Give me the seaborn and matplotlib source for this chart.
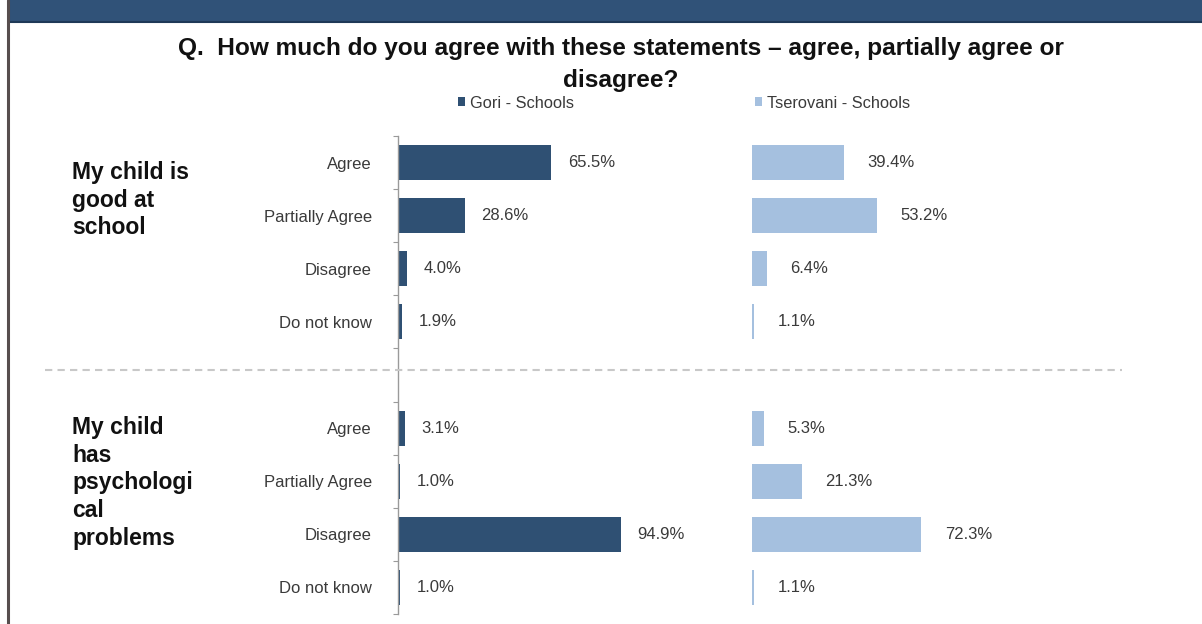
import numpy as np
import pandas as pd
import matplotlib
matplotlib.use("Agg")
import matplotlib.pyplot as plt
import seaborn as sns
from matplotlib.patches import Patch, Rectangle
from matplotlib.lines import Line2D

# data
statements = ["My child is\ngood at\nschool", "My child\nhas\npsychologi\ncal\nproblems"]
responses = ["Agree", "Partially Agree", "Disagree", "Do not know"]
gori = [65.5, 28.6, 4.0, 1.9, 3.1, 1.0, 94.9, 1.0]
tserovani = [39.4, 53.2, 6.4, 1.1, 5.3, 21.3, 72.3, 1.1]
series_names = ["Gori - Schools", "Tserovani - Schools"]
title = "Q.  How much do you agree with these statements \u2013 agree, partially agree or\ndisagree?"

DARK = "#2F5073"
LIGHT = "#A5C0DF"
TXT = "#3a3a3a"

# long table, one row per statement/response
keys = [f"s{i}_{r}" for i in range(len(statements)) for r in responses]
df = pd.DataFrame({"key": keys,
                   "response": responses * len(statements),
                   "Gori": gori, "Tserovani": tserovani})
order = keys[:4] + ["gap"] + keys[4:]
tick_labels = [df.set_index("key")["response"].get(k, "") for k in order]

sns.set_theme(style="white")
plt.rcParams["font.family"] = ["Liberation Sans", "DejaVu Sans"]

fig = plt.figure(figsize=(12.02, 6.24), dpi=100)
W, H = 1202, 624

def fx(px):
    return px / W

def fy(py):
    return 1 - py / H

ax_bottom = fy(614)
ax_h = (614 - 136) / H
scale = 2.35  # px per percent
ax1 = fig.add_axes([fx(397.5), ax_bottom, fx(140 * scale), ax_h])
ax2 = fig.add_axes([fx(751.5), ax_bottom, fx(160 * scale), ax_h])

sns.barplot(data=df, x="Gori", y="key", order=order, orient="h", color=DARK,
            saturation=1, width=0.66, ax=ax1, linewidth=0)
sns.barplot(data=df, x="Tserovani", y="key", order=order, orient="h", color=LIGHT,
            saturation=1, width=0.66, ax=ax2, linewidth=0)

for ax, pad in ((ax1, 12), (ax2, 17)):
    ax.set_xlim(0, 140 if ax is ax1 else 160)
    ax.set_ylim(len(order) - 0.5, -0.5)
    ax.set_xlabel("")
    ax.set_ylabel("")
    ax.set_xticks([])
    ax.patch.set_alpha(0)
    for c in ax.containers:
        ax.bar_label(c, fmt="%.1f%%", padding=pad, fontsize=12, color=TXT)
    for s in ax.spines.values():
        s.set_visible(False)

# left axis: category labels, small ticks on the slot boundaries
ax1.set_yticks(range(len(order)))
ax1.set_yticklabels(tick_labels, fontsize=12, color=TXT)
ax1.tick_params(axis="y", which="major", length=0, pad=18.5)
ax1.set_yticks(np.arange(-0.5, len(order)), minor=True)
ax1.tick_params(axis="y", which="minor", left=True, length=3.5, width=0.8,
                color="#9a9a9a", direction="out")
ax1.spines["left"].set_visible(True)
ax1.spines["left"].set_color("#9a9a9a")
ax1.spines["left"].set_linewidth(1.0)
ax2.set_yticks([])

# header strip and frame line
fig.patches.append(Rectangle((fx(8), fy(22)), 1 - fx(8), 22 / H, transform=fig.transFigure,
                             facecolor="#305278", edgecolor="none", zorder=0))
fig.lines.append(Line2D([fx(8), 1], [fy(22), fy(22)], transform=fig.transFigure,
                        color="#1E3957", lw=1.5))
fig.lines.append(Line2D([fx(7.5), fx(7.5)], [0, 1], transform=fig.transFigure,
                        color="#574e4e", lw=2.2))

# dashed separator between the two statements
fig.lines.append(Line2D([fx(45), fx(1122)], [fy(370), fy(370)], transform=fig.transFigure,
                        color="#c8c8c8", lw=1.5, dashes=[3.5, 2.5]))

# statement labels
fig.text(fx(72), fy(161), statements[0], ha="left", va="top", fontsize=16.5,
         fontweight="bold", color="#111111", linespacing=1.25)
fig.text(fx(72), fy(416), statements[1], ha="left", va="top", fontsize=16.5,
         fontweight="bold", color="#111111", linespacing=1.26)

fig.text(fx(621), fy(37), title, ha="center", va="top", fontsize=17.6,
         fontweight="bold", color="#111111", linespacing=1.5)

handles = [Patch(facecolor=DARK, edgecolor="none"), Patch(facecolor=LIGHT, edgecolor="none")]
fig.legend(handles, series_names, loc="center left", bbox_to_anchor=(fx(458), fy(103)),
           ncol=2, frameon=False, fontsize=11.8, handlelength=0.45, handleheight=0.45,
           handletextpad=0.3, columnspacing=11.0, borderpad=0, borderaxespad=0,
           labelcolor=TXT)

fig.savefig("out.png", dpi=100)
